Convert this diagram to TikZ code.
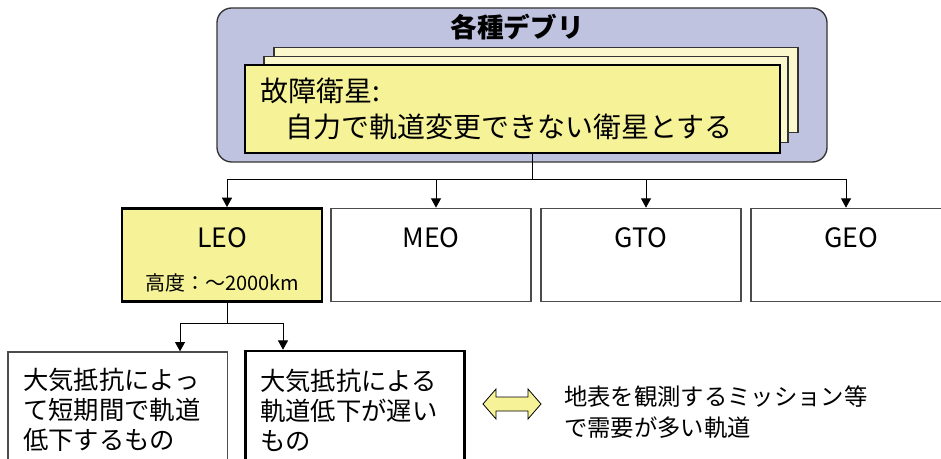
\documentclass[tikz,border=0pt]{standalone}
\usepackage{fontspec}
\setmainfont{Noto Sans CJK JP}
\usepackage{tikz}
\usetikzlibrary{arrows.meta, positioning}

\definecolor{groupblue}{RGB}{192,195,224}
\definecolor{cardyellow}{RGB}{246,242,152}
\definecolor{paleyellow}{RGB}{250,248,204}

\begin{document}
\begin{tikzpicture}[
    x=0.75pt, y=-0.75pt,
    group/.style={rectangle, draw=black!80, line width=1pt, fill=groupblue, rounded corners=11pt, minimum width=457.5pt, minimum height=115.5pt},
    sheet/.style={rectangle, draw=black!80, line width=0.8pt, fill=paleyellow, minimum width=393pt, minimum height=64pt},
    card/.style={rectangle, draw=black, line width=1.8pt, fill=cardyellow, minimum width=401pt, minimum height=66pt},
    orbit/.style={rectangle, draw=black!70, line width=1pt, fill=white, minimum width=150pt, minimum height=70pt},
    decay/.style={rectangle, draw=black!70, line width=1pt, fill=white, minimum width=164.5pt, minimum height=96pt},
    arrow/.style={-{Triangle[length=7pt, width=7.5pt]}, line width=0.75pt},
    link/.style={line width=0.75pt},
    txt/.style={inner sep=0pt, align=left, anchor=west}
]
\useasboundingbox (0,0) rectangle (941,459);

% Debris group
\node[group] (debris) at (522,85) {};
\node[font=\fontsize{20}{24}\selectfont\bfseries] (title) at (517,27) {各種デブリ};
\node[sheet] (back) at (536,90) {};
\node[sheet] (middle) at (526,99.5) {};
\node[card] (failed) at (512.5,109) {};
\node[txt, font=\fontsize{21}{27}\selectfont] (failedtxt) at (260,109) {故障衛星:\\\hspace{18.75pt}自力で軌道変更できない衛星とする};

% Orbit classes
\node[orbit, fill=cardyellow, draw=black, line width=1.9pt] (leo) at (222,255) {};
\node[orbit] (meo) at (431,255) {};
\node[orbit] (gto) at (641,255) {};
\node[orbit] (geo) at (851,255) {};
\node[font=\fontsize{20}{24}\selectfont] (leotxt) at (222,238) {LEO};
\node[font=\fontsize{15}{18}\selectfont] (leoalt) at (222,283) {高度：～2000km};
\node[font=\fontsize{20}{24}\selectfont] (meotxt) at (431,238) {MEO};
\node[font=\fontsize{20}{24}\selectfont] (gtotxt) at (641,238) {GTO};
\node[font=\fontsize{20}{24}\selectfont] (geotxt) at (851,238) {GEO};

% LEO subclasses
\node[decay] (fast) at (117.5,416) {};
\node[decay, draw=black, line width=1.9pt] (slow) at (355,415) {};
\node[txt, font=\fontsize{19}{22.5}\selectfont] (fasttxt) at (23,410) {大気抵抗によっ\\て短期間で軌道\\低下するもの};
\node[txt, font=\fontsize{19}{22.5}\selectfont] (slowtxt) at (260,410) {大気抵抗による\\軌道低下が遅い\\もの};

% Legend
\draw[fill=cardyellow, line width=0.6pt] (483,404) -- (496,389) -- (496,397) -- (528,397) -- (528,389) -- (541,404)
    -- (528,419) -- (528,411) -- (496,411) -- (496,419) -- cycle;
\node[txt, font=\fontsize{17.5}{23.6}\selectfont] (legend) at (564,412) {地表を観測するミッション等\\で需要が多い軌道};

% Connectors
\coordinate (split) at (532,180);
\coordinate (leosplit) at (227,323);
\draw[link] (split |- failed.south) -- (split);
\draw[arrow] (split) -| ([xshift=3.75pt]leo.north);
\draw[arrow] (split) -| ([xshift=3.75pt]meo.north);
\draw[arrow] (split) -| ([xshift=3.75pt]gto.north);
\draw[arrow] (split) -| ([xshift=-3.75pt]geo.north);
\draw[link] (leosplit |- leo.south) -- (leosplit);
\draw[arrow] (leosplit) -| ([xshift=46.9pt]fast.north);
\draw[arrow] (leosplit) -| ([xshift=-54pt]slow.north);

\end{tikzpicture}
\end{document}
